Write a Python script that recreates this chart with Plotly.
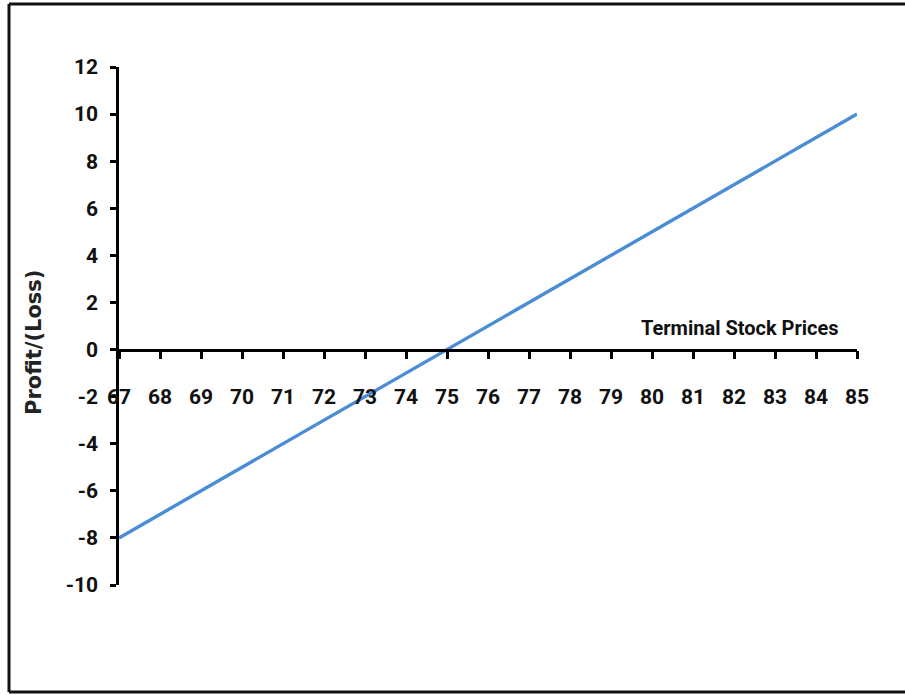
import plotly.graph_objects as go

# Data
stock_prices = [67, 68, 69, 70, 71, 72, 73, 74, 75, 76, 77, 78, 79, 80, 81, 82, 83, 84, 85]
profit_loss = [-8, -7, -6, -5, -4, -3, -2, -1, 0, 1, 2, 3, 4, 5, 6, 7, 8, 9, 10]
y_ticks = [-10, -8, -6, -4, -2, 0, 2, 4, 6, 8, 10, 12]
y_tick_labels = ["-10", "-8", "-6", "-4", "-2", "0", "2", "4", "6", "8", "10", "12"]

W, H = 905, 695
L, R, T, B = 119, 48, 67, 110
pw, ph = W - L - R, H - T - B

def px(x):
    return (x - L) / pw

def py(y):
    return (H - B - y) / ph

tick_font = dict(family="Roboto, Arial, sans-serif", size=21, color="#111111", weight="bold")

fig = go.Figure()
fig.add_trace(go.Scatter(
    x=stock_prices, y=profit_loss, mode="lines",
    line=dict(color="#4A8CD6", width=3.4),
    showlegend=False, hoverinfo="x+y",
))

fig.update_layout(
    width=W, height=H,
    margin=dict(l=L, r=R, t=T, b=B),
    paper_bgcolor="white", plot_bgcolor="white",
    xaxis=dict(
        range=[67, 85], tickmode="array", tickvals=stock_prices,
        ticktext=[str(v) for v in stock_prices],
        showgrid=False, zeroline=False, showline=True, linecolor="black", linewidth=2.5,
        ticks="outside", ticklen=8, tickwidth=2.5, tickcolor="black",
        anchor="free", position=10 / 22, ticklabelstandoff=20,
        tickfont=tick_font,
    ),
    yaxis=dict(
        range=[-10, 12], tickmode="array", tickvals=y_ticks, ticktext=y_tick_labels,
        showgrid=False, zeroline=False, showline=True, linecolor="black", linewidth=2.5,
        ticks="outside", ticklen=6, tickwidth=2.5, tickcolor="black",
        ticklabelstandoff=8,
        tickfont=tick_font,
    ),
)

fig.add_annotation(
    text="<b>Terminal Stock Prices</b>", xref="paper", yref="paper",
    x=px(841), y=py(328), xanchor="right", yanchor="middle", showarrow=False,
    font=dict(family="Roboto, Arial, sans-serif", size=20, color="#111111"),
)
fig.add_annotation(
    text="<b>Profit/(Loss)</b>", xref="paper", yref="paper",
    x=px(34), y=py(343), xanchor="center", yanchor="middle", showarrow=False,
    textangle=-90,
    font=dict(family="DejaVu Sans, Verdana, sans-serif", size=21, color="#222222"),
)

# Outer frame (left, top, bottom; no right edge visible)
frame = dict(color="#111111", width=3)
fig.add_shape(type="line", xref="paper", yref="paper", x0=px(9), x1=px(9), y0=py(692), y1=py(4), line=frame)
fig.add_shape(type="line", xref="paper", yref="paper", x0=px(9), x1=px(910), y0=py(4), y1=py(4), line=frame)
fig.add_shape(type="line", xref="paper", yref="paper", x0=px(9), x1=px(910), y0=py(692), y1=py(692), line=frame)

fig.write_html(
    "out.html",
    config={"displayModeBar": False},
    post_script="document.body.style.margin='0px';document.documentElement.style.overflow='hidden';",
)
